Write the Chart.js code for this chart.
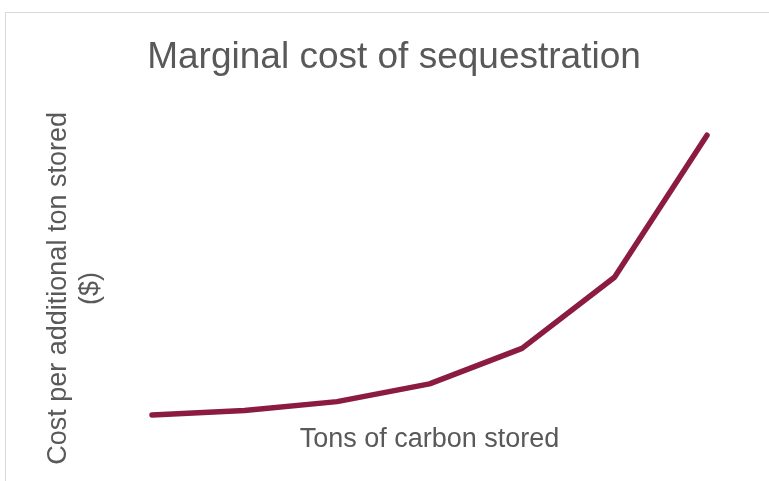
<!DOCTYPE html>
<html>
<head>
<meta charset="utf-8">
<script src="https://cdn.jsdelivr.net/npm/chart.js@4"></script>
<style>
  html, body { margin: 0; padding: 0; background: #fff; overflow: hidden; }
  #frame { position: absolute; left: 5px; top: 12px; width: 900px; height: 600px;
           border-top: 1.5px solid #d9d9d9; border-left: 1.5px solid #d9d9d9; }
  #chart { position: absolute; left: 0; top: 0; }
</style>
</head>
<body>
<div id="frame"></div>
<canvas id="chart" width="769" height="481"></canvas>
<script>
// data (no tick labels shown, relative cost)
const tonsLabels = ['1', '2', '3', '4', '5', '6', '7'];
const costValues = [1, 2, 4, 8, 16, 32, 64];
const titleText = 'Marginal cost of sequestration';
const xTitle = 'Tons of carbon stored';
const yTitle = ['Cost per additional ton stored', '($)'];

const grey = '#595959';
const font = '"Liberation Sans", Arial, sans-serif';

new Chart(document.getElementById('chart').getContext('2d'), {
    type: 'line',
    data: {
        labels: tonsLabels,
        datasets: [{
            data: costValues,
            borderColor: '#8b1b40',
            borderWidth: 5.5,
            borderCapStyle: 'round',
            borderJoinStyle: 'round',
            pointRadius: 0,
            tension: 0,
            fill: false,
            clip: false
        }]
    },
    options: {
        responsive: false,
        animation: false,
        layout: { padding: { left: 19, right: 0, top: 0, bottom: 24.8 } },
        plugins: {
            legend: { display: false },
            tooltip: { enabled: false },
            title: {
                display: true,
                text: titleText,
                color: grey,
                font: { family: font, size: 37, weight: 'normal', lineHeight: 1.2 },
                padding: { top: 35.5, bottom: 77.5 }
            }
        },
        scales: {
            x: {
                offset: false,
                grid: { display: false, drawTicks: false },
                border: { display: false },
                ticks: { display: false },
                title: {
                    display: true,
                    text: xTitle,
                    color: grey,
                    font: { family: font, size: 27, weight: 'normal', lineHeight: 1.2 },
                    padding: { top: 4.4, bottom: 0 }
                }
            },
            y: {
                min: 0,
                max: 59,
                grid: { display: false, drawTicks: false },
                border: { display: false },
                ticks: { display: false },
                title: {
                    display: true,
                    text: yTitle,
                    color: grey,
                    font: { family: font, size: 27, weight: 'normal', lineHeight: 1.2 },
                    padding: { top: 23.4, bottom: 44.8 }
                }
            },
            // empty right axis, only keeps the right margin
            yRight: {
                display: true,
                position: 'right',
                grid: { display: false, drawTicks: false },
                border: { display: false },
                ticks: { display: false },
                title: {
                    display: true,
                    text: ' ',
                    font: { family: font, size: 10, lineHeight: 1.2 },
                    padding: { top: 50, bottom: 0 }
                }
            }
        }
    }
});
</script>
</body>
</html>
